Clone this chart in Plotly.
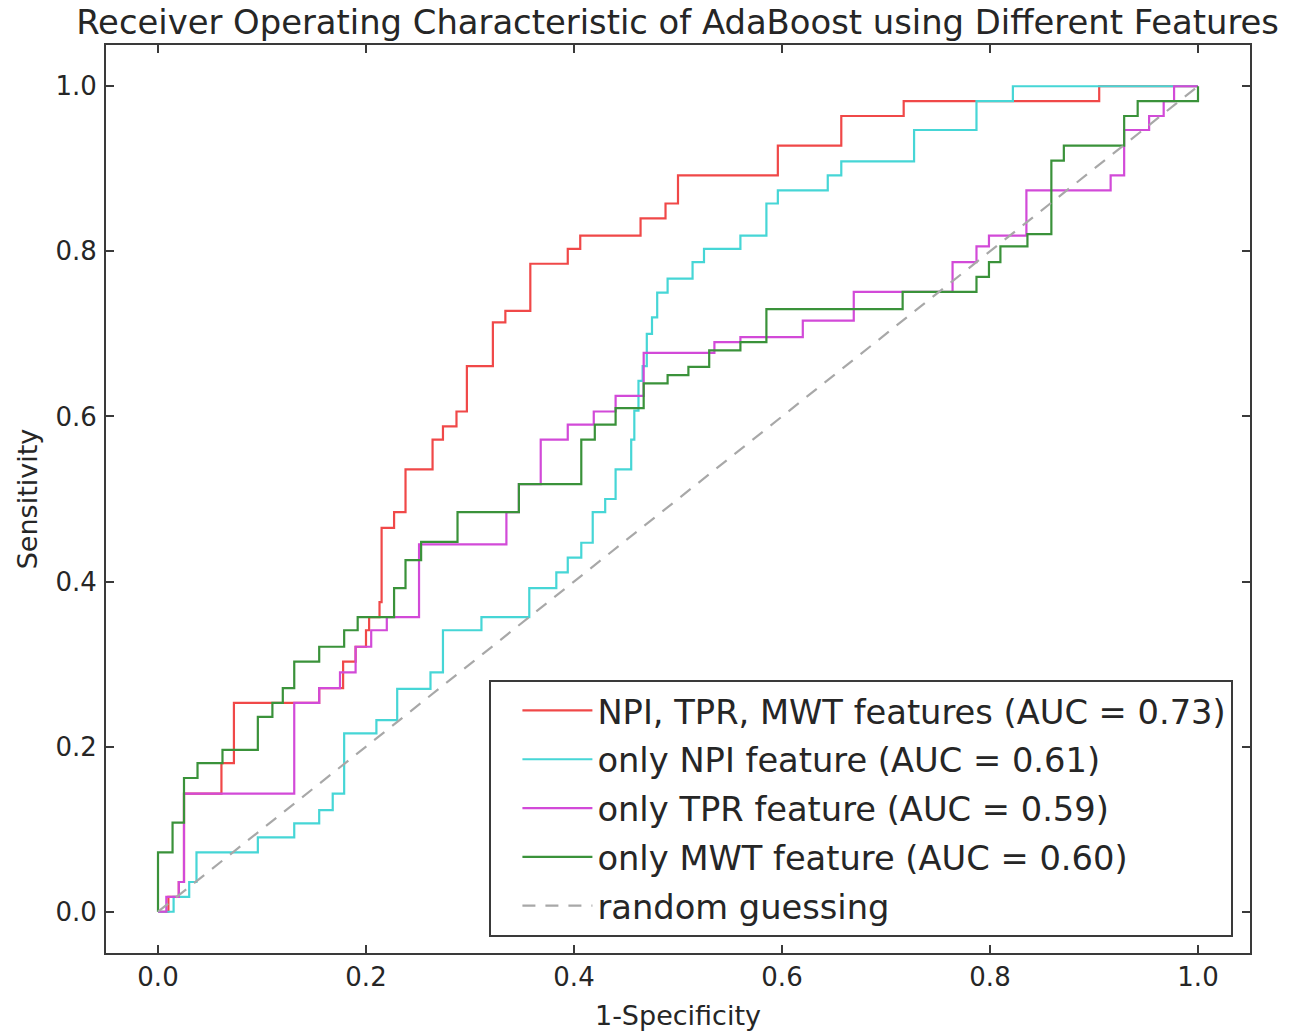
import plotly.graph_objects as go

# ROC curve points (false positive rate, true positive rate) for each feature set
all_fpr = [0.0, 0.01, 0.02, 0.025, 0.061, 0.073, 0.155, 0.178, 0.19, 0.2, 0.203, 0.213, 0.215,
           0.227, 0.238, 0.264, 0.274, 0.287, 0.297, 0.322, 0.334, 0.358, 0.394, 0.406,
           0.464, 0.488, 0.5, 0.596, 0.657, 0.717, 0.905, 1.0]
all_tpr = [0.0, 0.018, 0.036, 0.143, 0.18, 0.253, 0.271, 0.303, 0.321, 0.341, 0.357, 0.375, 0.465,
           0.484, 0.536, 0.572, 0.588, 0.606, 0.661, 0.714, 0.728, 0.785, 0.803, 0.819,
           0.84, 0.858, 0.892, 0.928, 0.964, 0.982, 1.0, 1.0]

npi_fpr = [0.0, 0.015, 0.03, 0.037, 0.096, 0.131, 0.155, 0.168, 0.179, 0.21,
           0.23, 0.262, 0.274, 0.311, 0.357, 0.383, 0.394, 0.407, 0.418, 0.43,
           0.44, 0.455, 0.458, 0.462, 0.466, 0.47, 0.475, 0.48, 0.49, 0.514,
           0.525, 0.56, 0.585, 0.596, 0.644, 0.657, 0.727, 0.787, 0.822, 1.0]
npi_tpr = [0.0, 0.018, 0.036, 0.072, 0.09, 0.107, 0.123, 0.143, 0.216, 0.232,
           0.27, 0.29, 0.341, 0.357, 0.392, 0.411, 0.429, 0.447, 0.484, 0.5,
           0.536, 0.572, 0.607, 0.643, 0.661, 0.7, 0.72, 0.75, 0.767, 0.787,
           0.803, 0.819, 0.858, 0.874, 0.892, 0.909, 0.947, 0.982, 1.0, 1.0]

tpr_fpr = [0.0, 0.008, 0.02, 0.025, 0.131, 0.155, 0.175, 0.19, 0.205, 0.22,
           0.251, 0.335, 0.347, 0.368, 0.394, 0.419, 0.44, 0.467, 0.535, 0.56,
           0.62, 0.669, 0.764, 0.787, 0.799, 0.835, 0.916, 0.929, 0.953, 0.967,
           0.977, 1.0]
tpr_tpr = [0.0, 0.018, 0.036, 0.143, 0.253, 0.271, 0.29, 0.321, 0.341, 0.357,
           0.445, 0.484, 0.518, 0.572, 0.59, 0.606, 0.625, 0.677, 0.69, 0.696,
           0.716, 0.751, 0.787, 0.806, 0.819, 0.874, 0.892, 0.947, 0.964, 0.982,
           1.0, 1.0]

mwt_fpr = [0.0, 0.0, 0.014, 0.025, 0.038, 0.062, 0.096, 0.11, 0.12, 0.131,
           0.155, 0.179, 0.192, 0.227, 0.238, 0.253, 0.288, 0.347, 0.407, 0.42,
           0.44, 0.467, 0.49, 0.51, 0.53, 0.56, 0.585, 0.716, 0.787, 0.799,
           0.81, 0.836, 0.859, 0.871, 0.929, 0.942, 1.0]
mwt_tpr = [0.0, 0.072, 0.108, 0.162, 0.18, 0.196, 0.236, 0.253, 0.271, 0.303,
           0.321, 0.341, 0.357, 0.392, 0.426, 0.448, 0.484, 0.518, 0.572, 0.59,
           0.61, 0.64, 0.65, 0.66, 0.68, 0.69, 0.73, 0.751, 0.769, 0.787,
           0.806, 0.821, 0.91, 0.928, 0.964, 0.982, 1.0]

chance_x = [0.0, 1.0]
chance_y = [0.0, 1.0]

series_names = [
    "NPI, TPR, MWT features (AUC = 0.73)",
    "only NPI feature (AUC = 0.61)",
    "only TPR feature (AUC = 0.59)",
    "only MWT feature (AUC = 0.60)",
    "random guessing",
]
series_colors = ["#f04848", "#46d6d6", "#d24ad8", "#3a923a", "#a8a8a8"]

FONT = "DejaVu Sans"
TEXT = "#262626"
FRAME = "#3a3a3a"

fig = go.Figure()
curves = [(all_fpr, all_tpr), (npi_fpr, npi_tpr), (tpr_fpr, tpr_tpr), (mwt_fpr, mwt_tpr)]
for i, ((fx, fy), name, color) in enumerate(zip(curves, series_names[:4], series_colors[:4])):
    fig.add_trace(go.Scatter(
        x=fx, y=fy, mode="lines", name=name, legendgroup=f"g{i}",
        line=dict(color=color, width=2.2, shape="hv"),
    ))

fig.add_trace(go.Scatter(
    x=chance_x, y=chance_y, mode="lines", name=series_names[4], legendgroup="g4",
    line=dict(color=series_colors[4], width=2.2, dash="13px,10px"),
))

axis_common = dict(
    range=[-0.05, 1.05],
    tickvals=[0.0, 0.2, 0.4, 0.6, 0.8, 1.0],
    ticktext=["0.0", "0.2", "0.4", "0.6", "0.8", "1.0"],
    ticks="inside",
    ticklen=8,
    tickwidth=1.5,
    tickcolor=FRAME,
    showline=True,
    linecolor=FRAME,
    linewidth=2,
    mirror="ticks",
    showgrid=False,
    zeroline=False,
    automargin=False,
    tickfont=dict(family=FONT, size=26, color=TEXT),
)

fig.update_xaxes(
    **axis_common,
    title=dict(text="1-Specificity", font=dict(family=FONT, size=27, color=TEXT), standoff=15),
    ticklabelstandoff=0,
)
fig.update_yaxes(
    **axis_common,
    title=dict(text="Sensitivity", font=dict(family=FONT, size=27, color=TEXT), standoff=10),
    ticklabelstandoff=2,
)

fig.update_layout(
    width=1298,
    height=1036,
    margin=dict(l=106, r=48, t=45, b=83),
    paper_bgcolor="white",
    plot_bgcolor="white",
    title=dict(
        text="Receiver Operating Characteristic of AdaBoost using Different Features",
        font=dict(family=FONT, size=33.8, color=TEXT),
        x=0.522, xanchor="center",
        y=1 - 22 / 1036, yanchor="middle", yref="container",
    ),
    legend=dict(
        x=0.9855, y=0.0176, xanchor="right", yanchor="bottom",
        bgcolor="white",
        bordercolor=FRAME,
        borderwidth=2,
        font=dict(family=FONT, size=33.7, color=TEXT),
        itemwidth=70,
        indentation=26,
        tracegroupgap=2,
    ),
    showlegend=True,
)

fig.write_html("out.html")
